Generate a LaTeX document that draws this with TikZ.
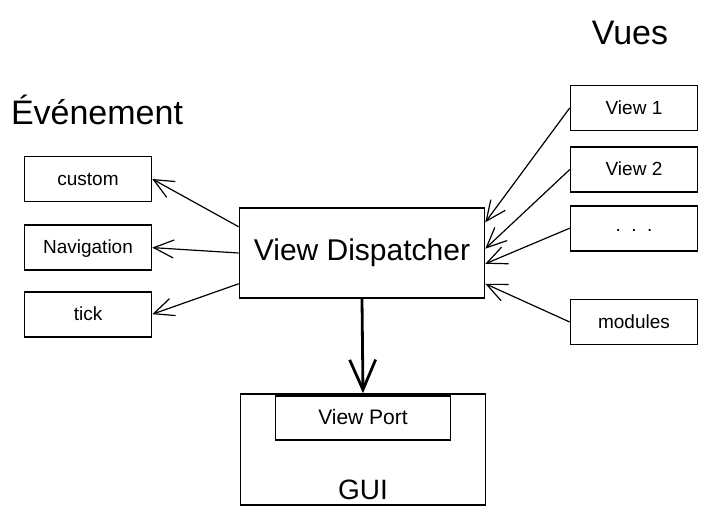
\documentclass[tikz,border=0pt]{standalone}
\usepackage{fontspec}
\setmainfont{Liberation Sans}
\usetikzlibrary{arrows.meta,positioning}

\begin{document}
\begin{tikzpicture}[x=0.5pt,y=-0.5pt,
    bx/.style={rectangle,draw,line width=0.8pt,minimum width=63.5pt,minimum height=22.5pt,
               inner sep=0pt,text height=0.7em,text depth=0.1em,font=\fontsize{9.5}{11}\selectfont},
    big/.style={rectangle,draw,line width=0.8pt,minimum width=122.5pt,minimum height=45pt,
               inner sep=0pt,font=\fontsize{15}{18}\selectfont},
    ttl/.style={font=\fontsize{17}{20}\selectfont},
    ar/.style={-{Straight Barb[length=10pt,width=9pt]},line width=0.6pt}]
    \useasboundingbox (0,0) rectangle (707,515);
    \node[ttl](t1) at (97,110){Événement};
    \node[ttl](t2) at (630,33){Vues};
    \node[big](d) at (362,253){View Dispatcher};
    % evenements
    \node[bx](c) at (88,179){custom};
    \node[bx,below=11pt of c](n){Navigation};
    \node[bx,below=10pt of n](k){tick};
    % vues
    \node[bx](v1) at (634,108){View 1};
    \node[bx,below=7.5pt of v1](v2){View 2};
    \node[bx,below=6pt of v2](v3){\raisebox{1.5pt}{.\ \ .\ \ .}};
    \node[bx](m) at (634,322){modules};
    % gui
    \node[big,minimum height=55.5pt](g) at (363,449.5){};
    \node[bx,minimum width=87.5pt,minimum height=22pt,font=\fontsize{10.5}{12}\selectfont,below=1pt of g.north](p){View Port};
    \node[font=\fontsize{14}{16}\selectfont](gl) at (363,490){GUI};
    \draw[ar](d.168)--(c.east);\draw[ar](d.west)--(n.east);\draw[ar](d.194)--(k.east);
    \draw[ar](v1.west)--(d.14);\draw[ar](v2.west)--(d.2);\draw[ar](v3.west)--(d.355);\draw[ar](m.west)--(d.346);
    \draw[-{Straight Barb[length=15pt,width=13pt]},line width=1.4pt](d.south)--(g.north);
  \end{tikzpicture}
\end{document}
